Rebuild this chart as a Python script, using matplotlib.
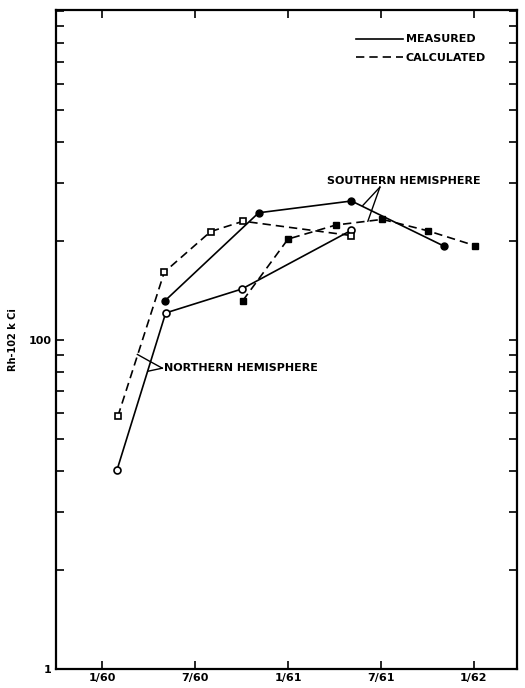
import matplotlib
matplotlib.use("Agg")
import matplotlib.pyplot as plt
from matplotlib.ticker import FixedLocator, NullFormatter

plt.rcParams['font.family'] = ['DejaVu Sans']

# months counted from 1/60
tick_pos = [0, 6, 12, 18, 24]
tick_labels = ['1/60', '7/60', '1/61', '7/61', '1/62']

# measured (solid)
meas_south_x = [4.06, 10.1, 16.1, 22.1]
meas_south_y = [132, 244, 265, 193]
meas_north_x = [0.95, 4.09, 9.0, 16.1]
meas_north_y = [40.4, 121, 143, 216]

# calculated (dashed)
calc_north_x = [1.0, 4.0, 7.0, 9.1, 16.1]
calc_north_y = [58.7, 161, 214, 230, 208]
calc_south_x = [9.08, 12.0, 15.1, 18.1, 21.05, 24.06]
calc_south_y = [132, 203, 224, 233, 215, 194]

fig = plt.figure(figsize=(5.25, 6.88), dpi=100)
ax = fig.add_axes([0.1067, 0.0276, 0.878, 0.958])

lw = 1.2
ax.plot(meas_south_x, meas_south_y, '-', color='black', lw=lw,
        marker='o', ms=5, mfc='black', mec='black')
ax.plot(meas_north_x, meas_north_y, '-', color='black', lw=lw,
        marker='o', ms=5, mfc='white', mec='black', mew=1.2)
ax.plot(calc_north_x, calc_north_y, color='black', lw=lw, dashes=(5, 3),
        marker='s', ms=5, mfc='white', mec='black', mew=1.2)
ax.plot(calc_south_x, calc_south_y, color='black', lw=lw, dashes=(5, 3),
        marker='s', ms=5, mfc='black', mec='black')

ax.set_yscale('log')
ax.set_ylim(10, 1010)
ax.set_xlim(-3, 26.8)

ax.xaxis.set_major_locator(FixedLocator(tick_pos))
ax.set_xticklabels(tick_labels, fontsize=8, fontweight='bold')
ax.yaxis.set_major_locator(FixedLocator([10, 100, 1000]))
ax.set_yticklabels(['1', '100', ''], fontsize=8, fontweight='bold')
ax.yaxis.set_minor_locator(FixedLocator([20, 30, 40, 50, 60, 70, 80, 90,
                                         200, 300, 400, 500, 600, 700, 800, 900]))
ax.yaxis.set_minor_formatter(NullFormatter())
ax.tick_params(which='both', direction='in', top=True, right=True,
               length=6, width=1.2, pad=3)
for s in ax.spines.values():
    s.set_linewidth(1.6)

ax.set_ylabel('Rh-102 k Ci', fontsize=7, fontweight='bold', labelpad=8)

# legend
ax.plot([], [], '-', color='black', lw=lw, label='MEASURED')
ax.plot([], [], color='black', lw=lw, dashes=(5, 3), label='CALCULATED')
handles, labels = ax.get_legend_handles_labels()
ax.legend(handles, labels, loc='upper right', bbox_to_anchor=(0.955, 0.978),
          frameon=False, handlelength=4.2, handletextpad=0.3, labelspacing=0.75,
          prop={'size': 8, 'weight': 'bold'})

# hemisphere labels
ax.text(19.5, 304, 'SOUTHERN HEMISPHERE', ha='center', va='center',
        fontsize=8, fontweight='bold')
ax.plot([17.94, 16.84], [292, 257], color='black', lw=1.0)
ax.plot([17.94, 17.16], [292, 230], color='black', lw=1.0)

ax.text(3.95, 82.2, 'NORTHERN HEMISPHERE', ha='left', va='center',
        fontsize=8, fontweight='bold')
ax.plot([3.87, 3.03, 2.26], [82.2, 86.4, 90.5], color='black', lw=1.0)
ax.plot([3.87, 2.97], [82.2, 80.5], color='black', lw=1.0)

fig.savefig('out.png', dpi=100)
